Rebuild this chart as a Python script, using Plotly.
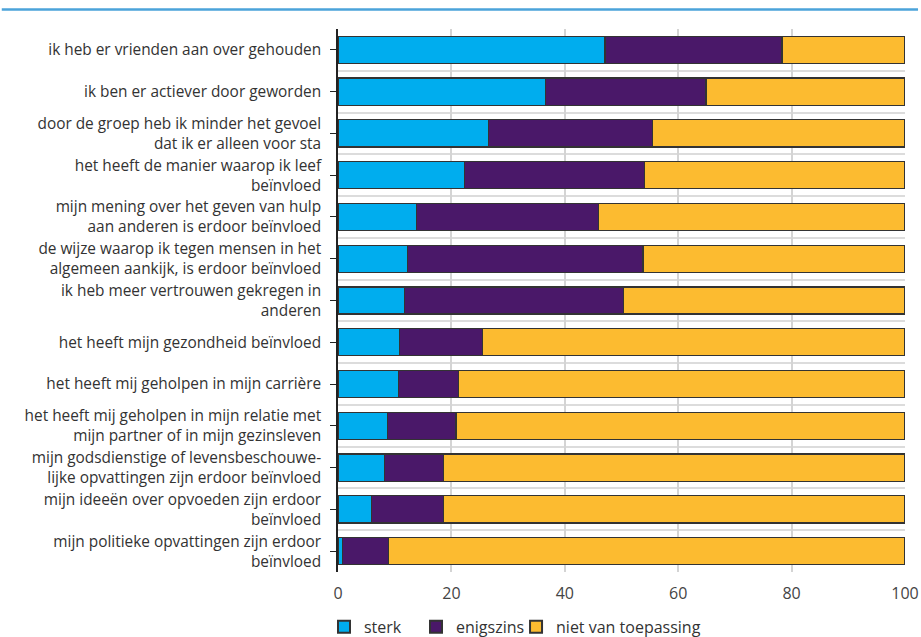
import plotly.graph_objects as go

categories = [
    "ik heb er vrienden aan over gehouden",
    "ik ben er actiever door geworden",
    "door de groep heb ik minder het gevoel<br>dat ik er alleen voor sta",
    "het heeft de manier waarop ik leef<br>beïnvloed",
    "mijn mening over het geven van hulp<br>aan anderen is erdoor beïnvloed",
    "de wijze waarop ik tegen mensen in het<br>algemeen aankijk, is erdoor beïnvloed",
    "ik heb meer vertrouwen gekregen in<br>anderen",
    "het heeft mijn gezondheid beïnvloed",
    "het heeft mij geholpen in mijn carrière",
    "het heeft mij geholpen in mijn relatie met<br>mijn partner of in mijn gezinsleven",
    "mijn godsdienstige of levensbeschouwe-<br>lijke opvattingen zijn erdoor beïnvloed",
    "mijn ideeën over opvoeden zijn erdoor<br>beïnvloed",
    "mijn politieke opvattingen zijn erdoor<br>beïnvloed",
]
sterk = [47.1, 36.6, 26.5, 22.3, 13.8, 12.2, 11.7, 10.9, 10.6, 8.7, 8.2, 5.9, 0.8]
enigszins_cum = [78.3, 64.9, 55.4, 54.0, 46.0, 53.8, 50.4, 25.5, 21.2, 20.8, 18.6, 18.6, 8.9]
enigszins = [round(c - s, 1) for c, s in zip(enigszins_cum, sterk)]
niet = [round(100 - c, 1) for c in enigszins_cum]

series_names = ["sterk", "enigszins", "niet van toepassing"]
colors = ["#00ADEE", "#4A1869", "#FCBB30"]
x_ticks = [0, 20, 40, 60, 80, 100]

ypos = list(range(len(categories)))
boundaries = [i - 0.5 for i in range(len(categories) + 1)]

legend_ids = ["legend", "legend2", "legend3"]
legend_x = [-0.0247, 0.1376, 0.314]

fig = go.Figure()
for name, vals, col, lid in zip(series_names, [sterk, enigszins, niet], colors, legend_ids):
    fig.add_trace(go.Bar(
        y=ypos, x=vals, name=name, orientation="h", legend=lid,
        marker=dict(color=col, line=dict(color="#333333", width=1.2)),
        width=0.65,
    ))

font_family = "Open Sans, Noto Sans, sans-serif"
fs = 15.4
legend_style = dict(orientation="h", xanchor="left", yref="container",
                    y=0.016, yanchor="middle",
                    font=dict(size=16, color="#333333"),
                    itemsizing="constant", bgcolor="rgba(0,0,0,0)")
legend_layout = {lid: dict(x=lx, **legend_style) for lid, lx in zip(legend_ids, legend_x)}

fig.update_layout(
    barmode="stack",
    width=921, height=637,
    margin=dict(l=338, r=16, t=29, b=65),
    paper_bgcolor="white", plot_bgcolor="white",
    font=dict(family=font_family, size=fs, color="#333333"),
    showlegend=True,
    xaxis=dict(range=[0, 100], tickvals=x_ticks, showgrid=True, gridcolor="#d4d4d4",
               gridwidth=1.5, zeroline=False, showline=False, ticks="",
               ticklabelstandoff=10, automargin=False,
               tickfont=dict(size=16, color="#444444"), fixedrange=True),
    yaxis=dict(range=[len(categories) - 0.5, -0.5], tickvals=ypos, ticktext=categories,
               showgrid=False, zeroline=False, showline=True, linecolor="#222222",
               linewidth=1.5, ticks="outside", ticklen=6, tickcolor="#222222",
               tickwidth=1.2, tickfont=dict(size=fs, color="#333333"),
               ticklabelstandoff=6, automargin=False,
               minor=dict(tickvals=boundaries, showgrid=True, gridcolor="#dcdcdc",
                          gridwidth=1.5, ticks="")),
    shapes=[dict(type="line", xref="paper", yref="paper", x0=-0.593, x1=1.023,
                 y0=1.036, y1=1.036, line=dict(color="#4BA3DA", width=2.5))],
    **legend_layout,
)

fig.write_html("out.html", config={"displayModeBar": False},
               post_script="document.body.style.margin='0';")
